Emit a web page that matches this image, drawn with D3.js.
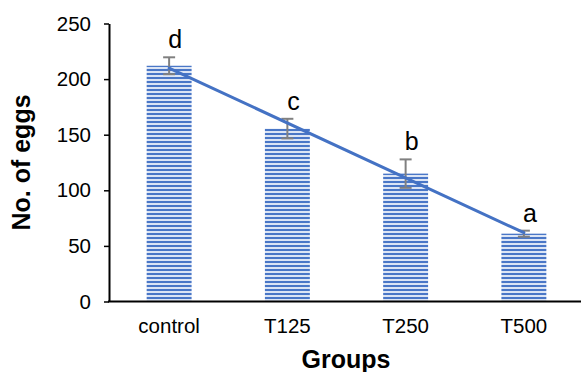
<!DOCTYPE html>
<html>
<head>
<meta charset="utf-8">
<script src="https://cdn.jsdelivr.net/npm/d3@7"></script>
<style>
  body { margin: 0; background: #fff; }
  svg { display: block; font-family: "Liberation Sans", Arial, sans-serif; }
  .axis path { stroke: #000; stroke-width: 2; }
  .axis line { stroke: #000; stroke-width: 1.5; }
  .axis text { fill: #000; font-size: 20.5px; }
</style>
</head>
<body>
<script>
// data
var groups = ["control", "T125", "T250", "T500"];
var eggs = [212, 155.5, 115, 61];
var errors = [7.6, 8.8, 12.8, 2.7];
var letters = ["d", "c", "b", "a"];
var yTicks = [0, 50, 100, 150, 200, 250];

var W = 581, H = 372;

var svg = d3.select("body").append("svg")
    .attr("width", W)
    .attr("height", H);

// striped fill like the excel pattern
var defs = svg.append("defs");
var pat = defs.append("pattern")
    .attr("id", "stripes")
    .attr("patternUnits", "userSpaceOnUse")
    .attr("width", 8)
    .attr("height", 4);
pat.append("rect").attr("width", 8).attr("height", 4).attr("fill", "#dce5f5");
pat.append("rect").attr("y", 1).attr("width", 8).attr("height", 2).attr("fill", "#4a77c7");

var xScale = d3.scaleBand()
    .domain(groups)
    .range([110, 583])
    .paddingInner(0.62)
    .paddingOuter(0.31);

var yScale = d3.scaleLinear()
    .domain([0, 250])
    .range([301.5, 23.5]);

// bars
svg.selectAll(".bar")
    .data(groups)
    .enter().append("rect")
    .attr("class", "bar")
    .attr("x", d => xScale(d))
    .attr("width", xScale.bandwidth())
    .attr("y", (d, i) => yScale(eggs[i]))
    .attr("height", (d, i) => yScale(0) - yScale(eggs[i]))
    .attr("fill", "url(#stripes)");

// error bars
var eb = svg.selectAll(".err")
    .data(groups)
    .enter().append("g")
    .attr("class", "err")
    .attr("stroke", "#808080")
    .attr("stroke-width", 2);
eb.append("line")
    .attr("x1", d => xScale(d) + xScale.bandwidth() / 2)
    .attr("x2", d => xScale(d) + xScale.bandwidth() / 2)
    .attr("y1", (d, i) => yScale(eggs[i] - errors[i]))
    .attr("y2", (d, i) => yScale(eggs[i] + errors[i]));
eb.append("line")
    .attr("x1", d => xScale(d) + xScale.bandwidth() / 2 - 6)
    .attr("x2", d => xScale(d) + xScale.bandwidth() / 2 + 6)
    .attr("y1", (d, i) => yScale(eggs[i] + errors[i]))
    .attr("y2", (d, i) => yScale(eggs[i] + errors[i]));
eb.append("line")
    .attr("x1", d => xScale(d) + xScale.bandwidth() / 2 - 6)
    .attr("x2", d => xScale(d) + xScale.bandwidth() / 2 + 6)
    .attr("y1", (d, i) => yScale(eggs[i] - errors[i]))
    .attr("y2", (d, i) => yScale(eggs[i] - errors[i]));

// linear trendline (least squares over group index)
var n = eggs.length;
var mx = (n - 1) / 2, my = d3.mean(eggs);
var slope = d3.sum(eggs, (v, i) => (i - mx) * (v - my)) / d3.sum(eggs, (v, i) => (i - mx) * (i - mx));
var trend = groups.map((g, i) => ({ g: g, v: my + slope * (i - mx) }));
var line = d3.line()
    .x(d => xScale(d.g) + xScale.bandwidth() / 2)
    .y(d => yScale(d.v));
svg.append("path")
    .datum([trend[0], trend[n - 1]])
    .attr("d", line)
    .attr("fill", "none")
    .attr("stroke", "#4472c4")
    .attr("stroke-width", 3)
    .attr("stroke-linecap", "round");

// significance letters
svg.selectAll(".letter")
    .data(groups)
    .enter().append("text")
    .attr("class", "letter")
    .attr("x", d => xScale(d) + xScale.bandwidth() / 2 + 6)
    .attr("y", (d, i) => yScale(eggs[i] + errors[i]) - 9)
    .attr("text-anchor", "middle")
    .style("font-size", "25px")
    .text((d, i) => letters[i]);

// axes
svg.append("g")
    .attr("class", "axis")
    .attr("transform", "translate(109,0)")
    .call(d3.axisLeft(yScale)
        .tickValues(yTicks)
        .tickSize(5)
        .tickPadding(13)
        .tickSizeOuter(0));

var xAxis = svg.append("g")
    .attr("class", "axis")
    .attr("transform", "translate(0," + yScale(0) + ")")
    .call(d3.axisBottom(xScale)
        .tickSize(0)
        .tickPadding(17)
        .tickSizeOuter(0));
xAxis.select(".domain").attr("d", "M108,0H581");

// axis titles
svg.append("text")
    .attr("transform", "translate(30,162.5) rotate(-90)")
    .attr("text-anchor", "middle")
    .style("font-size", "25px")
    .style("font-weight", "bold")
    .text("No. of eggs");

svg.append("text")
    .attr("x", 346)
    .attr("y", 368)
    .attr("text-anchor", "middle")
    .style("font-size", "25px")
    .style("font-weight", "bold")
    .text("Groups");
</script>
</body>
</html>
